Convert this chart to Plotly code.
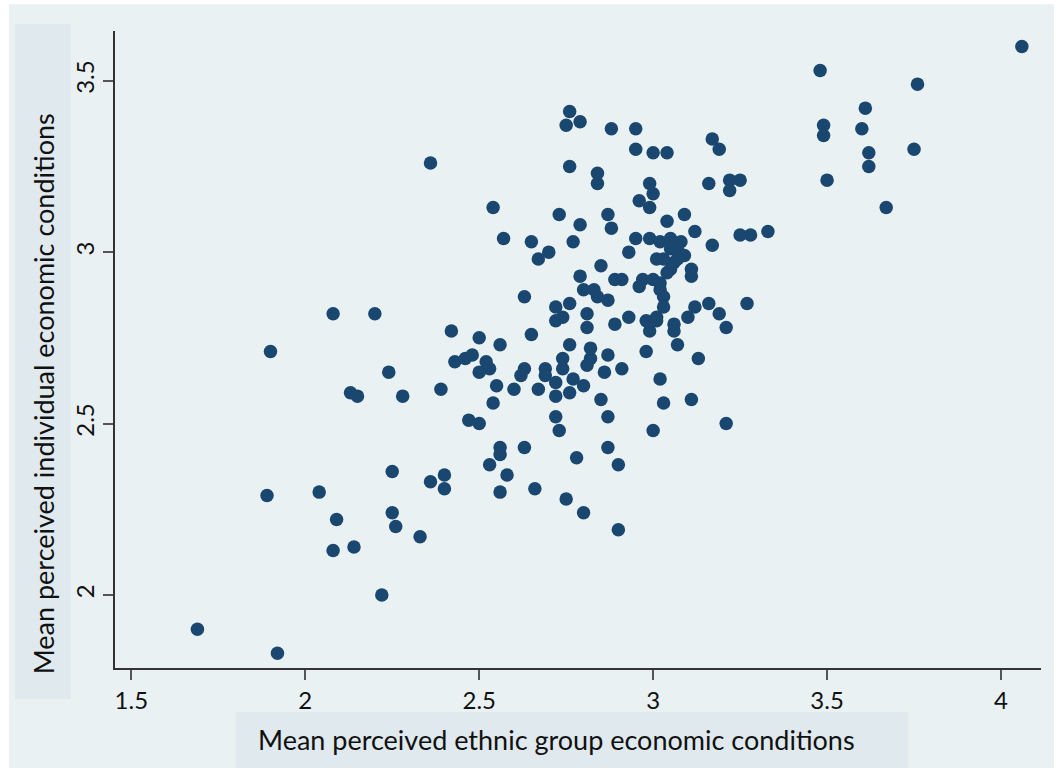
import plotly.graph_objects as go

# Mean perceived ethnic group economic conditions (x) vs
# mean perceived individual economic conditions (y)
group_econ = [
    1.69, 1.92, 1.89, 1.90, 2.08, 2.20, 2.04, 2.09, 2.08, 2.14,
    2.22, 2.13, 2.15, 2.24, 2.28, 2.25, 2.25, 2.26, 2.33, 2.36,
    2.40, 2.40, 2.39, 2.36, 2.42, 2.43, 2.46, 2.48, 2.52, 2.53,
    2.50, 2.50, 2.56, 2.65, 2.55, 2.54, 2.47, 2.50, 2.56, 2.56,
    2.63, 2.53, 2.58, 2.56, 2.66, 2.75, 2.80, 2.90, 2.78, 2.87,
    2.90, 2.72, 2.73, 2.87, 2.85, 2.63, 2.62, 2.60, 2.67, 2.69,
    2.69, 2.72, 2.72, 2.74, 2.74, 2.76, 2.77, 2.76, 2.80, 2.82,
    2.82, 2.81, 2.87, 2.86, 2.91, 3.02, 3.03, 3.11, 3.00, 3.21,
    3.13, 3.07, 2.98, 3.21, 2.99, 2.89, 2.81, 2.81, 2.76, 2.72,
    2.72, 2.74, 2.63, 2.80, 2.83, 2.84, 2.87, 2.93, 2.98, 3.01,
    3.01, 3.06, 3.06, 3.10, 3.12, 3.16, 3.19, 3.27, 3.03, 3.03,
    2.89, 2.91, 2.97, 2.96, 3.00, 3.02, 3.02, 2.85, 2.79, 2.93,
    2.95, 2.99, 3.02, 3.05, 3.08, 3.05, 3.07, 3.09, 3.06, 3.07,
    3.01, 3.03, 3.05, 3.04, 3.11, 3.11, 2.88, 3.12, 3.17, 3.25,
    3.28, 3.33, 3.09, 3.04, 2.87, 2.79, 2.73, 2.57, 2.65, 2.77,
    2.70, 2.67, 2.54, 2.99, 2.96, 3.00, 2.99, 2.84, 2.84, 2.76,
    2.95, 3.00, 3.04, 2.76, 2.75, 2.79, 2.88, 2.95, 3.17, 3.19,
    3.16, 3.22, 3.25, 3.22, 4.06, 3.48, 3.76, 3.61, 3.49, 3.49,
    3.60, 3.62, 3.75, 3.62, 3.50, 3.67,
]
individual_econ = [
    1.90, 1.83, 2.29, 2.71, 2.82, 2.82, 2.30, 2.22, 2.13, 2.14,
    2.00, 2.59, 2.58, 2.65, 2.58, 2.36, 2.24, 2.20, 2.17, 2.33,
    2.35, 2.31, 2.60, 3.26, 2.77, 2.68, 2.69, 2.70, 2.68, 2.66,
    2.65, 2.75, 2.73, 2.76, 2.61, 2.56, 2.51, 2.50, 2.43, 2.41,
    2.43, 2.38, 2.35, 2.30, 2.31, 2.28, 2.24, 2.19, 2.40, 2.43,
    2.38, 2.52, 2.48, 2.52, 2.57, 2.66, 2.64, 2.60, 2.60, 2.66,
    2.64, 2.62, 2.58, 2.69, 2.66, 2.73, 2.63, 2.59, 2.61, 2.72,
    2.69, 2.67, 2.70, 2.65, 2.66, 2.63, 2.56, 2.57, 2.48, 2.50,
    2.69, 2.73, 2.71, 2.78, 2.77, 2.79, 2.78, 2.82, 2.85, 2.84,
    2.80, 2.81, 2.87, 2.89, 2.89, 2.87, 2.86, 2.81, 2.80, 2.81,
    2.80, 2.79, 2.77, 2.81, 2.84, 2.85, 2.82, 2.85, 2.87, 2.84,
    2.92, 2.92, 2.92, 2.90, 2.92, 2.91, 2.89, 2.96, 2.93, 3.00,
    3.04, 3.04, 3.03, 3.04, 3.03, 3.01, 3.01, 2.99, 2.97, 2.98,
    2.98, 2.98, 2.95, 2.94, 2.95, 2.93, 3.07, 3.06, 3.02, 3.05,
    3.05, 3.06, 3.11, 3.09, 3.11, 3.08, 3.11, 3.04, 3.03, 3.03,
    3.00, 2.98, 3.13, 3.13, 3.15, 3.17, 3.20, 3.23, 3.20, 3.25,
    3.30, 3.29, 3.29, 3.41, 3.37, 3.38, 3.36, 3.36, 3.33, 3.30,
    3.20, 3.21, 3.21, 3.18, 3.60, 3.53, 3.49, 3.42, 3.37, 3.34,
    3.36, 3.29, 3.30, 3.25, 3.21, 3.13,
]

x_ticks = [1.5, 2, 2.5, 3, 3.5, 4]
x_tick_text = ["1.5", "2", "2.5", "3", "3.5", "4"]
y_ticks = [2, 2.5, 3, 3.5]
y_tick_text = ["2", "2.5", "3", "3.5"]

x_title = "Mean perceived ethnic group economic conditions"
y_title = "Mean perceived individual economic conditions"

NAVY = "#1a476f"
PANEL = "#eaf1f3"
TITLE_BOX = "#dfe9ee"
FONT = "Lato, 'Open Sans', sans-serif"

fig = go.Figure()
fig.add_trace(go.Scatter(
    x=group_econ,
    y=individual_econ,
    mode="markers",
    marker=dict(size=13.5, color=NAVY, line=dict(width=0)),
    showlegend=False,
    hoverinfo="x+y",
))

# outer graph region, and the boxes behind both axis titles
fig.add_shape(type="rect", xref="paper", yref="paper",
              x0=-0.1145, x1=1.014, y0=-0.157, y1=1.042,
              fillcolor=PANEL, line=dict(width=0), layer="below")
fig.add_shape(type="rect", xref="paper", yref="paper",
              x0=-0.108, x1=-0.0475, y0=-0.0487, y1=1.011,
              fillcolor=TITLE_BOX, line=dict(width=0), layer="below")
fig.add_shape(type="rect", xref="paper", yref="paper",
              x0=0.1307, x1=0.8564, y0=-0.157, y1=-0.0691,
              fillcolor=TITLE_BOX, line=dict(width=0), layer="below")

fig.add_annotation(text=y_title, xref="paper", yref="paper",
                   x=-0.0775, y=0.43, showarrow=False, textangle=-90,
                   xanchor="center", yanchor="middle",
                   font=dict(family=FONT, size=27, color="#111111"))
fig.add_annotation(text=x_title, xref="paper", yref="paper",
                   x=0.4773, y=-0.113, showarrow=False,
                   xanchor="center", yanchor="middle",
                   font=dict(family=FONT, size=27, color="#111111"))

fig.update_xaxes(
    range=[1.453, 4.115],
    tickvals=x_ticks, ticktext=x_tick_text,
    showgrid=False, zeroline=False,
    showline=True, linecolor="#333333", linewidth=1.5,
    ticks="outside", ticklen=10, tickwidth=1.5, tickcolor="#555555",
    tickfont=dict(family=FONT, size=24, color="#111111"),
)
fig.update_yaxes(
    range=[1.787, 3.645],
    tickvals=y_ticks, ticktext=y_tick_text,
    tickangle=-90,
    showgrid=True, gridcolor=PANEL, gridwidth=2,
    zeroline=False,
    showline=True, linecolor="#333333", linewidth=1.5,
    ticks="outside", ticklen=10, tickwidth=1.5, tickcolor="#555555",
    tickfont=dict(family=FONT, size=24, color="#111111"),
)

fig.update_layout(
    width=1062, height=771,
    margin=dict(l=115, r=21, t=31, b=103),
    paper_bgcolor="white",
    plot_bgcolor="white",
    font=dict(family=FONT),
)

fig.write_html("out.html")
